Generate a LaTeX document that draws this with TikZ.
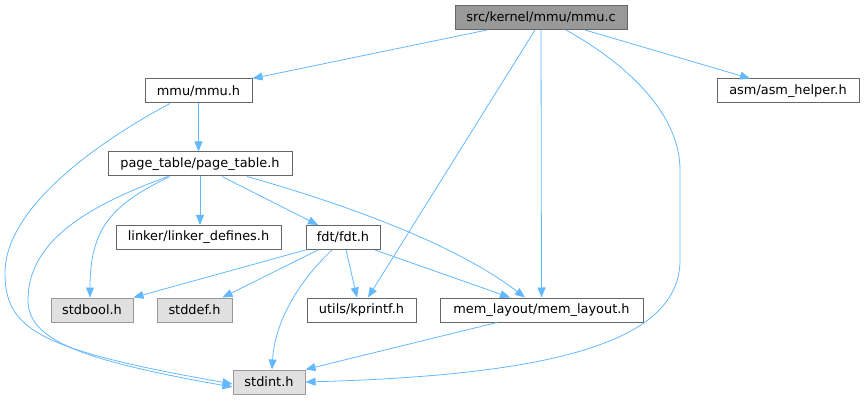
\documentclass[tikz,border=0pt]{standalone}
\usepackage{fontspec}
\setmainfont{DejaVu Sans}
\usepackage{tikz}
\usetikzlibrary{arrows.meta}
\definecolor{edgeblue}{HTML}{63B8FF}
\definecolor{boxline}{HTML}{666666}
\definecolor{rootfill}{HTML}{999999}
\definecolor{sysline}{HTML}{999999}
\definecolor{sysfill}{HTML}{E0E0E0}

\begin{document}
\begin{tikzpicture}[x=1pt,y=-1pt,
	file/.style={draw=boxline,fill=white,line width=1pt,minimum height=24pt,inner sep=0pt,font=\fontsize{12.9}{15}\selectfont},
	root/.style={file,fill=rootfill},
	sys/.style={file,draw=sysline,fill=sysfill},
	inc/.style={draw=edgeblue,line width=0.8pt,-{Triangle[length=10pt,width=8pt]}}]
				\useasboundingbox (0,0) rectangle (864,403);
				\node[root,minimum width=172pt] (mmuc) at (541,17.5) {src/kernel/mmu/mmu.c};
				\node[file,minimum width=107pt] (mmuh) at (198.5,91) {mmu/mmu.h};
				\node[file,minimum width=142pt] (asmhelper) at (788,91) {asm/asm\_helper.h};
				\node[file,minimum width=184pt] (pagetable) at (200,164) {page\_table/page\_table.h};
				\node[file,minimum width=165pt] (linkerdef) at (198.5,237.5) {linker/linker\_defines.h};
				\node[file,minimum width=74pt] (fdt) at (343,237.5) {fdt/fdt.h};
				\node[sys,minimum width=82pt] (stdbool) at (92,310) {stdbool.h};
				\node[sys,minimum width=75pt] (stddef) at (194.5,310) {stddef.h};
				\node[file,minimum width=109pt] (kprintf) at (361.5,310) {utils/kprintf.h};
				\node[file,minimum width=203pt] (memlayout) at (541.5,310) {mem\_layout/mem\_layout.h};
				\node[sys,minimum width=72pt] (stdint) at (269,382) {stdint.h};
				\draw[inc] ([xshift=-54pt]mmuc.south) -- (mmuh.north east);
				\draw[inc] ([xshift=44pt]mmuc.south) -- ([xshift=-38pt]asmhelper.north);
				\draw[inc] ([xshift=-6pt]mmuc.south) -- ([xshift=6.5pt]kprintf.north);
				\draw[inc] (mmuc.south) -- (memlayout.north);
				\draw[inc] ([xshift=25pt]mmuc.south) .. controls (620,60) and (680,110) .. (680,170) -- (680,260) .. controls (680,340) and (560,375) .. (stdint.east);
				\draw[inc] (mmuh.south) -- (mmuh.south |- pagetable.north);
				\draw[inc] ([xshift=-28.5pt]mmuh.south) .. controls (120,130) and (5,200) .. (5,273) .. controls (5,330) and (40,350) .. ([yshift=-2pt]stdint.west);
				\draw[inc] (pagetable.south) -- (pagetable.south |- linkerdef.north);
				\draw[inc] ([xshift=22pt]pagetable.south) -- ([xshift=-25pt]fdt.north);
				\draw[inc] ([xshift=47pt]pagetable.south) .. controls (330,200) and (450,240) .. ([xshift=-16.5pt]memlayout.north);
				\draw[inc] ([xshift=-30pt]pagetable.south) .. controls (110,205) and (90,230) .. ([xshift=-2pt]stdbool.north);
				\draw[inc] ([xshift=-32pt]pagetable.south) .. controls (90,205) and (28,240) .. (28,300) .. controls (28,340) and (80,360) .. ([yshift=-5pt]stdint.west);
				\draw[inc] (fdt.south west) -- (stdbool.north east);
				\draw[inc] ([xshift=-25pt]fdt.south) -- ([xshift=28pt]stddef.north);
				\draw[inc] ([xshift=-11pt]fdt.south) .. controls (300,280) and (275,320) .. ([xshift=3pt]stdint.north);
				\draw[inc] ([xshift=3pt]fdt.south) -- ([xshift=-4.5pt]kprintf.north);
				\draw[inc] ([xshift=32pt]fdt.south) -- ([xshift=-31.5pt]memlayout.north);
				\draw[inc] ([xshift=-44.5pt]memlayout.south) -- (stdint.north east);
\end{tikzpicture}
\end{document}
